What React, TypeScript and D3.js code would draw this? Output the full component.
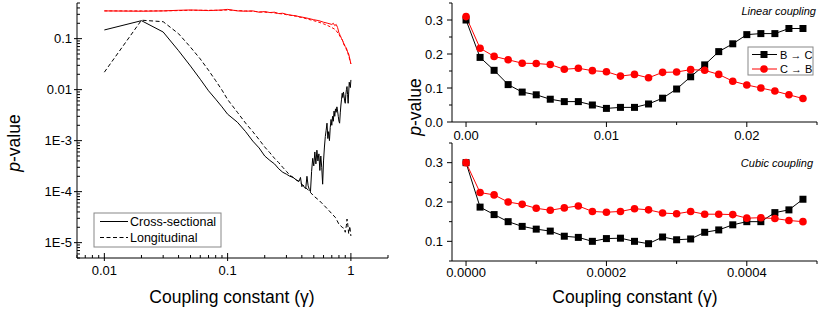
import React from 'react';
import * as d3 from 'd3';

// ---------- Left panel (log-log) ----------
const crossGamma = [0.01,0.02,0.03,0.04,0.05,0.06,0.07,0.08,0.09,0.10,0.12,0.14,0.16,0.18,0.20,0.22,0.24,0.26,0.28,0.30,0.32,0.34,0.36,0.38,
  0.39,0.40,0.41,0.42,0.43,0.44,0.45,0.46,0.47,0.48,0.49,0.50,0.51,0.52,0.53,0.54,0.55,0.56,0.57,0.58,0.59,0.60,
  0.61,0.62,0.63,0.64,0.65,0.66,0.67,0.68,0.69,0.70,0.71,0.72,0.73,0.74,0.75,0.76,0.77,0.78,0.79,0.80,
  0.81,0.82,0.83,0.84,0.85,0.86,0.87,0.88,0.89,0.90,0.91,0.92,0.93,0.94,0.95,0.96,0.97,0.98,0.99,1.00];
const crossBC = [0.148,0.225,0.135,0.058,0.029,0.016,0.0095,0.0065,0.0046,0.0033,0.0023,0.0015,0.00098,0.00072,0.0005,0.00041,0.00035,0.00028,0.00024,0.00022,0.0002,0.00019,0.00017,0.00016,
  1.9e-4,1.25e-4,1.35e-4,1.2e-4,1.15e-4,2.0e-4,1.3e-4,1.1e-4,1.0e-4,2.5e-4,4.5e-4,3.2e-4,6.0e-4,3.5e-4,6.5e-4,4.0e-4,5.5e-4,2.6e-4,5.0e-4,3.0e-4,1.4e-4,4.0e-4,
  7.5e-4,1.2e-3,1.6e-3,2.2e-3,1.1e-3,1.5e-3,1.0e-3,1.8e-3,2.6e-3,2.0e-3,3.0e-3,2.4e-3,3.8e-3,3.0e-3,4.2e-3,3.6e-3,4.6e-3,3.8e-3,3.0e-3,2.4e-3,
  2.2e-3,3.5e-3,5.0e-3,6.5e-3,8.5e-3,7.0e-3,9.0e-3,7.5e-3,6.0e-3,5.4e-3,8.0e-3,1.0e-2,1.15e-2,8.0e-3,5.4e-3,9.0e-3,1.4e-2,1.2e-2,1.1e-2,1.55e-2];

const longGamma = [0.01,0.02,0.03,0.04,0.05,0.06,0.07,0.08,0.09,0.10,0.12,0.14,0.16,0.18,0.20,0.22,0.24,0.26,0.28,0.30,0.32,0.34,0.36,0.38,
  0.40,0.45,0.50,0.55,0.60,0.65,0.70,0.75,0.80,0.85,0.88,0.90,0.92,0.93,0.94,0.95,0.96,0.98,1.00];
const longBC = [0.022,0.23,0.215,0.125,0.068,0.04,0.024,0.015,0.0098,0.0064,0.0036,0.0022,0.0015,0.00105,0.00075,0.00058,0.00045,0.00037,0.0003,0.00025,0.00021,0.00019,0.00017,0.000155,
  0.00014,0.000108,0.000082,0.000068,0.000055,0.000045,0.000037,0.000031,0.000023,0.00002,0.000019,0.000016,0.000022,0.000029,0.000025,0.000019,0.000015,0.000021,0.0000135];

const crossCBGamma = [0.01,0.02,0.03,0.04,0.05,0.06,0.07,0.08,0.09,0.10,0.12,0.14,0.16,0.18,0.20,0.22,0.24,0.26,0.28,0.30,0.32,0.34,0.36,0.38,
  0.40,0.45,0.50,0.55,0.60,0.65,0.70,0.72,0.74,0.76,0.78,0.80,0.82,0.84,0.86,0.88,0.90,0.92,0.94,0.96,0.98,1.00];
const crossCB = [0.35,0.345,0.35,0.36,0.365,0.36,0.355,0.36,0.365,0.375,0.35,0.345,0.35,0.33,0.34,0.325,0.33,0.31,0.315,0.30,0.29,0.285,0.28,0.27,
  0.265,0.25,0.235,0.225,0.21,0.2,0.19,0.2,0.18,0.19,0.165,0.13,0.115,0.1,0.09,0.075,0.07,0.065,0.055,0.05,0.04,0.032];

const longCBGamma = [0.01,0.02,0.03,0.04,0.05,0.06,0.07,0.08,0.09,0.10,0.12,0.14,0.16,0.18,0.20,0.22,0.24,0.26,0.28,0.30,0.32,0.34,0.36,0.38,
  0.40,0.45,0.50,0.55,0.60,0.65,0.70,0.75,0.80,0.85,0.90,0.95,1.00];
const longCB = [0.35,0.35,0.35,0.355,0.36,0.36,0.36,0.36,0.36,0.365,0.355,0.35,0.345,0.335,0.33,0.325,0.32,0.31,0.305,0.295,0.29,0.28,0.275,0.265,
  0.26,0.24,0.225,0.21,0.195,0.18,0.165,0.15,0.12,0.095,0.07,0.05,0.032];

// ---------- Right panels ----------
const linearGamma = [0,0.001,0.002,0.003,0.004,0.005,0.006,0.007,0.008,0.009,0.010,0.011,0.012,0.013,0.014,0.015,0.016,0.017,0.018,0.019,0.020,0.021,0.022,0.023,0.024];
const linearBC = [0.30,0.19,0.152,0.11,0.088,0.08,0.067,0.06,0.06,0.05,0.04,0.043,0.043,0.053,0.07,0.097,0.133,0.168,0.207,0.23,0.257,0.26,0.26,0.275,0.275];
const linearCB = [0.31,0.217,0.193,0.183,0.173,0.172,0.169,0.155,0.158,0.151,0.148,0.135,0.14,0.13,0.146,0.147,0.154,0.152,0.14,0.12,0.109,0.10,0.091,0.08,0.069];

const cubicGamma = [0,0.00002,0.00004,0.00006,0.00008,0.0001,0.00012,0.00014,0.00016,0.00018,0.0002,0.00022,0.00024,0.00026,0.00028,0.0003,0.00032,0.00034,0.00036,0.00038,0.0004,0.00042,0.00044,0.00046,0.00048];
const cubicBC = [0.30,0.187,0.168,0.15,0.138,0.131,0.126,0.113,0.11,0.10,0.107,0.108,0.10,0.094,0.111,0.104,0.106,0.123,0.129,0.142,0.15,0.15,0.173,0.18,0.207];
const cubicCB = [0.30,0.224,0.218,0.20,0.194,0.184,0.179,0.185,0.19,0.176,0.174,0.176,0.183,0.18,0.172,0.17,0.176,0.169,0.169,0.168,0.159,0.16,0.158,0.153,0.15];

// ---------- Ticks ----------
const leftYTicks = [1e-5, 1e-4, 1e-3, 0.01, 0.1];
const leftYLabels = ['1E-5', '1E-4', '1E-3', '0.01', '0.1'];
const leftXTicks = [0.01, 0.1, 1];
const leftXLabels = ['0.01', '0.1', '1'];
const linYTicks = [0, 0.1, 0.2, 0.3];
const linYLabels = ['0.0', '0.1', '0.2', '0.3'];
const linYMinor = [0.05, 0.15, 0.25, 0.35];
const linXTicks = [0, 0.01, 0.02];
const linXLabels = ['0.00', '0.01', '0.02'];
const linXMinor = [0.005, 0.015, 0.025];
const cubYTicks = [0.1, 0.2, 0.3];
const cubYLabels = ['0.1', '0.2', '0.3'];
const cubYMinor = [0.05, 0.15, 0.25, 0.35];
const cubXTicks = [0, 0.0002, 0.0004];
const cubXLabels = ['0.0000', '0.0002', '0.0004'];
const cubXMinor = [0.0001, 0.0003, 0.0005];

const FONT = "Arial, 'Liberation Sans', sans-serif";
const RED = '#ff0000';

function logMinor(domain: number[]) {
  const out: number[] = [];
  const lo = Math.floor(Math.log10(domain[0]));
  const hi = Math.ceil(Math.log10(domain[1]));
  for (let e = lo; e <= hi; e++) {
    for (let k = 2; k <= 9; k++) {
      const v = k * Math.pow(10, e);
      if (v >= domain[0] * 0.999 && v <= domain[1] * 1.001) out.push(v);
    }
  }
  return out;
}

function pairs(xs: number[], ys: number[]): [number, number][] {
  return xs.map((x, i) => [x, ys[i]]);
}

export default function App() {
  const xL = d3.scaleLog().domain([0.006, 2]).range([77, 388]);
  const yL = d3.scaleLog().domain([5e-6, 0.5]).range([258, 3]);
  const lineL = d3.line<[number, number]>().x(d => xL(d[0])).y(d => yL(d[1]));

  const xT = d3.scaleLinear().domain([-0.001, 0.025]).range([452, 817]);
  const yT = d3.scaleLinear().domain([0, 0.35]).range([122, 3]);
  const lineT = d3.line<[number, number]>().x(d => xT(d[0])).y(d => yT(d[1]));

  const xB = d3.scaleLinear().domain([-0.00002, 0.0005]).range([452, 817]);
  const yB = d3.scaleLinear().domain([0.05, 0.35]).range([261, 143]);
  const lineB = d3.line<[number, number]>().x(d => xB(d[0])).y(d => yB(d[1]));

  const xLMinor = logMinor(xL.domain());
  const yLMinor = logMinor(yL.domain());

  const markers = (xs: number[], ys: number[], sx: any, sy: any, kind: 'sq' | 'ci') =>
    xs.map((x, i) =>
      kind === 'sq' ? (
        <rect key={i} x={sx(x) - 3.5} y={sy(ys[i]) - 3.5} width={7} height={7} fill="#000" />
      ) : (
        <circle key={i} cx={sx(x)} cy={sy(ys[i])} r={3.8} fill={RED} />
      )
    );

  const rightPanel = (sx: any, sy: any, yTicks: number[], yLabels: string[], yMinor: number[], xTicks: number[], xLabels: string[], xMinor: number[], labelY: number) => {
    const [y0, y1] = sy.range();
    const [x0, x1] = sx.range();
    return (
      <g>
        <line x1={x0} x2={x0} y1={y0} y2={y1} stroke="#000" />
        <line x1={x0} x2={x1} y1={y0} y2={y0} stroke="#000" />
        {yTicks.map((t, i) => (
          <g key={'y' + i}>
            <line x1={x0 - 5} x2={x0} y1={sy(t)} y2={sy(t)} stroke="#000" />
            <text x={x0 - 9} y={sy(t) + 4.5} textAnchor="end" fontSize={13}>{yLabels[i]}</text>
          </g>
        ))}
        {yMinor.map((t, i) => (
          <line key={'ym' + i} x1={x0 - 3} x2={x0} y1={sy(t)} y2={sy(t)} stroke="#000" />
        ))}
        {xTicks.map((t, i) => (
          <g key={'x' + i}>
            <line x1={sx(t)} x2={sx(t)} y1={y0} y2={y0 + 5} stroke="#000" />
            <text x={sx(t)} y={labelY} textAnchor="middle" fontSize={13}>{xLabels[i]}</text>
          </g>
        ))}
        {xMinor.map((t, i) => (
          <line key={'xm' + i} x1={sx(t)} x2={sx(t)} y1={y0} y2={y0 + 3} stroke="#000" />
        ))}
      </g>
    );
  };

  return (
    <svg width={822} height={314} style={{ position: 'absolute', left: 0, top: 0, background: '#fff' }} fontFamily={FONT}>
      <rect x={0} y={0} width={822} height={314} fill="#fff" />
      {/* ---------- Left panel ---------- */}
      <g>
        <line x1={77} x2={77} y1={3} y2={258} stroke="#000" />
        <line x1={77} x2={388} y1={258} y2={258} stroke="#000" />
        {leftYTicks.map((t, i) => (
          <g key={'ly' + i}>
            <line x1={74} x2={82} y1={yL(t)} y2={yL(t)} stroke="#000" />
            <text x={72} y={yL(t) + 4.5} textAnchor="end" fontSize={13}>{leftYLabels[i]}</text>
          </g>
        ))}
        {yLMinor.map((t, i) => (
          <line key={'lym' + i} x1={77} x2={80} y1={yL(t)} y2={yL(t)} stroke="#000" />
        ))}
        {leftXTicks.map((t, i) => (
          <g key={'lx' + i}>
            <line x1={xL(t)} x2={xL(t)} y1={253} y2={261} stroke="#000" />
            <text x={xL(t)} y={275} textAnchor="middle" fontSize={13}>{leftXLabels[i]}</text>
          </g>
        ))}
        {xLMinor.map((t, i) => (
          <line key={'lxm' + i} x1={xL(t)} x2={xL(t)} y1={255} y2={258} stroke="#000" />
        ))}
        <path d={lineL(pairs(longCBGamma, longCB)) || ''} fill="none" stroke={RED} strokeWidth={1} strokeDasharray="3,2" />
        <path d={lineL(pairs(crossCBGamma, crossCB)) || ''} fill="none" stroke={RED} strokeWidth={1} />
        <path d={lineL(pairs(longGamma, longBC)) || ''} fill="none" stroke="#000" strokeWidth={1} strokeDasharray="4,2.5" />
        <path d={lineL(pairs(crossGamma, crossBC)) || ''} fill="none" stroke="#000" strokeWidth={1} />
        {/* legend */}
        <rect x={94} y={213} width={127} height={34} fill="#fff" stroke="#888" strokeWidth={1} />
        <line x1={100} x2={128} y1={221.5} y2={221.5} stroke="#000" />
        <text x={130} y={226} fontSize={12.5}>Cross-sectional</text>
        <line x1={100} x2={128} y1={237.5} y2={237.5} stroke="#000" strokeDasharray="4,2.5" />
        <text x={130} y={242} fontSize={12.5}>Longitudinal</text>
        <text transform="translate(20,143) rotate(-90)" textAnchor="middle" fontSize={17.5}>
          <tspan fontStyle="italic">p</tspan>-value
        </text>
        <text x={232} y={303} textAnchor="middle" fontSize={17.5}>Coupling constant (γ)</text>
      </g>

      {/* ---------- Right top ---------- */}
      {rightPanel(xT, yT, linYTicks, linYLabels, linYMinor, linXTicks, linXLabels, linXMinor, 140)}
      <path d={lineT(pairs(linearGamma, linearBC)) || ''} fill="none" stroke="#000" strokeWidth={1} />
      <path d={lineT(pairs(linearGamma, linearCB)) || ''} fill="none" stroke={RED} strokeWidth={1} />
      {markers(linearGamma, linearBC, xT, yT, 'sq')}
      {markers(linearGamma, linearCB, xT, yT, 'ci')}
      <text x={816} y={15} textAnchor="end" fontSize={11} fontStyle="italic">Linear coupling</text>
      <rect x={748} y={47} width={65} height={28} fill="#fff" stroke="#888" />
      <line x1={752} x2={777} y1={54.5} y2={54.5} stroke="#000" />
      <rect x={760.5} y={51} width={7} height={7} fill="#000" />
      <text x={780} y={58.5} fontSize={11}>B → C</text>
      <line x1={752} x2={777} y1={69} y2={69} stroke={RED} />
      <circle cx={764} cy={69} r={3.8} fill={RED} />
      <text x={780} y={73} fontSize={11}>C → B</text>
      <text transform="translate(421,107) rotate(-90)" textAnchor="middle" fontSize={17.5}>
        <tspan fontStyle="italic">p</tspan>-value
      </text>

      {/* ---------- Right bottom ---------- */}
      {rightPanel(xB, yB, cubYTicks, cubYLabels, cubYMinor, cubXTicks, cubXLabels, cubXMinor, 277)}
      <path d={lineB(pairs(cubicGamma, cubicBC)) || ''} fill="none" stroke="#000" strokeWidth={1} />
      <path d={lineB(pairs(cubicGamma, cubicCB)) || ''} fill="none" stroke={RED} strokeWidth={1} />
      {markers(cubicGamma, cubicBC, xB, yB, 'sq')}
      {markers(cubicGamma, cubicCB, xB, yB, 'ci')}
      <text x={813} y={167} textAnchor="end" fontSize={11} fontStyle="italic">Cubic coupling</text>
      <text x={635} y={303} textAnchor="middle" fontSize={17.5}>Coupling constant (γ)</text>
    </svg>
  );
}
